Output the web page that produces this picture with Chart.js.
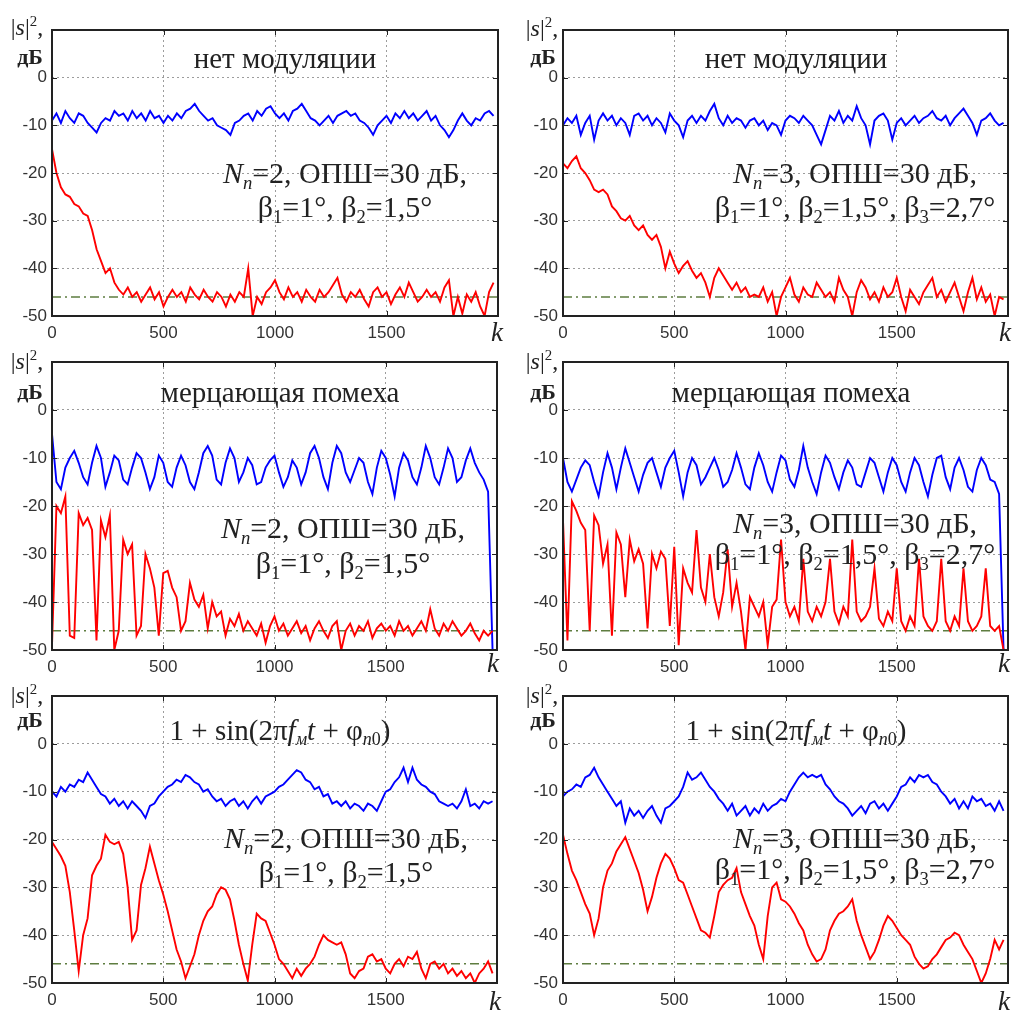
<!DOCTYPE html>
<html>
<head>
<meta charset="utf-8">
<script src="https://cdn.jsdelivr.net/npm/chart.js@4/dist/chart.umd.min.js"></script>
<style>
  body { margin: 0; background: #fff; }
  #page { position: relative; width: 1016px; height: 1012px; overflow: hidden; background: #fff; }
  #page canvas { position: absolute; }
  .txt { position: absolute; transform: translate(-50%, -50%); font-family: "Liberation Serif", "Times New Roman", serif; color: #222; white-space: nowrap; line-height: 1; }
  .title { font-size: 29px; }
  .note { font-size: 30px; }
  .ylab { font-size: 24px; }
  .unit { font-size: 22px; font-weight: bold; }
  .kl { font-size: 27px; font-style: italic; }
  sub { font-size: 0.62em; vertical-align: -0.3em; line-height: 0; }
  sup { font-size: 0.62em; vertical-align: 0.6em; line-height: 0; }
</style>
</head>
<body>
<div id="page"></div>
<script>
// sample positions (k), shared by every series
const kAxis = [0,20,40,60,80,100,120,140,160,180,
  200,220,240,260,280,300,320,340,360,380,
  400,420,440,460,480,500,520,540,560,580,
  600,620,640,660,680,700,720,740,760,780,
  800,820,840,860,880,900,920,940,960,980,
  1000,1020,1040,1060,1080,1100,1120,1140,1160,1180,
  1200,1220,1240,1260,1280,1300,1320,1340,1360,1380,
  1400,1420,1440,1460,1480,1500,1520,1540,1560,1580,
  1600,1620,1640,1660,1680,1700,1720,1740,1760,1780,
  1800,1820,1840,1860,1880,1900,1920,1940,1960,1980];

// нет модуляции
const noModBlueN2 = [-9,-7.5,-9.5,-7,-8.5,-9.5,-7.5,-8,-9.5,-10.5,
  -11.5,-9.5,-8.5,-9,-7,-8,-7.5,-9,-7,-8.5,
  -7.5,-9,-7,-8.5,-8,-9.5,-8,-9,-7.5,-8.5,
  -7,-6.5,-5.5,-7,-8,-9,-8.5,-10,-10.5,-11,
  -12,-9.5,-9,-8,-7.5,-9,-7,-8,-6.5,-6,
  -7.5,-8.5,-7.5,-9,-7,-6.5,-5.5,-7,-8.5,-9,
  -10,-9,-8,-9.5,-8,-7.5,-7,-8,-7.5,-9,
  -9.5,-10.5,-12,-10,-9,-8,-9.5,-7.5,-8.5,-7,
  -8.5,-7.5,-9,-8,-7,-9,-8,-10,-11,-12.5,
  -11,-9,-7.5,-9,-10,-8.5,-9,-7.5,-7,-8];
const noModRedN2 = [-15,-20,-23,-24.5,-25,-26.5,-27,-28.5,-29,-32,
  -36,-38.5,-41,-40,-43,-44.5,-45.5,-44,-46,-45,
  -47,-45.5,-44,-46.5,-45,-48,-46,-44.5,-46,-45,
  -47,-44,-45.5,-46.5,-44.5,-46,-47,-45,-46,-48,
  -45.5,-47,-45,-46,-40,-50,-46,-47.5,-45,-44,
  -42.5,-45,-46.5,-44,-46,-45,-47,-44.5,-46,-47,
  -44.5,-46,-45,-43.5,-42,-45.5,-47,-45,-46,-44.5,
  -46.5,-48,-45,-44,-46,-45,-47.5,-45.5,-44,-46,
  -43,-45,-47,-46,-44.5,-46,-45,-47,-44,-42.5,
  -50,-46,-49.5,-45.5,-47,-45,-48,-50,-45,-43];
const noModBlueN3 = [-10,-8.5,-9.5,-8,-12,-9.5,-8,-13,-9,-7.5,
  -9,-8,-10,-8.5,-9.5,-12,-8,-7.5,-9,-8,
  -10,-8.5,-9.5,-11.5,-7.5,-9,-10,-12.5,-9,-8,
  -9.5,-8,-9,-7,-5.5,-8.5,-10,-8,-9.5,-8.5,
  -9,-10.5,-9,-8.5,-10,-9,-11,-9.5,-10,-12,
  -9,-8,-8.5,-9.5,-8,-9,-10,-12,-14,-11,
  -8,-9,-7,-9.5,-8,-9,-6,-8.5,-10,-14,
  -9,-8,-7.5,-9,-13,-9.5,-8.5,-10,-9,-8,
  -9.5,-8.5,-8,-7,-8.5,-9,-8,-10,-8.5,-7.5,
  -6.5,-8,-9.5,-12,-9,-8.5,-7.5,-9,-10,-9.5];
const noModRedN3 = [-18,-19,-17.5,-16.5,-19,-20,-21.5,-23.5,-24,-23.5,
  -24.5,-27,-28,-29.5,-30,-29,-31,-32,-31,-33,
  -34,-33,-35.5,-40,-36.5,-39,-41,-39.5,-38.5,-40.5,
  -42,-41,-43,-46,-42,-40,-41.5,-43,-44.5,-43,
  -45,-44,-46,-45.5,-46,-44,-47,-45,-50,-46,
  -44,-42,-45.5,-47,-44,-45.5,-46,-43,-44.5,-46,
  -45,-47,-42,-44.5,-46,-50,-45,-42.5,-44,-46.5,
  -45,-47,-44,-46,-45,-42,-46,-49,-44.5,-46,
  -47.5,-45,-43.5,-42,-46,-44.5,-47,-45,-43,-46,
  -49,-45,-42,-46.5,-44,-47,-45.5,-50,-46,-46.5];

// мерцающая помеха
const flickerBlueN2 = [-5,-15,-16.5,-12,-10,-8.5,-11,-14,-15.5,-11,
  -7.5,-10,-16,-13,-9.5,-10.5,-14.5,-15.5,-12,-9,
  -10,-13,-16.5,-14,-9.5,-11,-15,-16,-12,-9.5,
  -11.5,-15,-16.5,-13,-9,-7.5,-9.5,-14.5,-15.5,-11,
  -8,-10,-15,-13,-10,-11.5,-15.5,-15,-12,-10.5,
  -9.5,-13,-16,-14,-10.5,-12,-15.5,-13,-9,-7.5,
  -10,-14,-16.5,-11,-7.5,-9,-13,-15,-12.5,-10,
  -11,-15,-17.5,-12,-8.5,-10,-13.5,-18,-12,-9,
  -10.5,-14,-15.5,-12,-7.5,-10,-14,-15.5,-12,-8,
  -10,-15,-14,-10.5,-8,-11,-13,-14.5,-17,-50];
const flickerRedN2 = [-49,-20,-21.5,-18,-47,-47.5,-21.5,-24,-22.5,-25,
  -48,-23,-26.5,-22,-50,-46,-27,-30,-28,-47,
  -45,-30,-33,-37,-47,-34,-33.5,-37,-39,-46,
  -44,-36,-39.5,-41,-38.5,-45.5,-40,-43,-42,-47,
  -43.5,-45,-42.5,-46,-44,-45.5,-47,-44.5,-48.5,-45,
  -43,-46,-44.5,-47,-45.5,-44,-46.5,-45,-48,-45.5,
  -44,-46,-47.5,-45,-44,-50,-46,-44.5,-47,-45,
  -46,-44,-47.5,-45.5,-44.5,-46,-45,-47,-44,-46,
  -45,-47,-45.5,-44,-46,-41.5,-45.5,-47,-44.5,-46,
  -44,-45.5,-47,-46,-44.5,-46.5,-48,-46,-47,-46];
const flickerBlueN3 = [-10,-15,-17,-14.5,-12,-10.5,-11.5,-15,-18,-13,
  -9,-12,-16.5,-12,-8,-11,-14,-17,-13.5,-11,
  -10,-13,-16,-12,-10,-8.5,-13,-18,-13,-10,
  -11.5,-15.5,-14,-12,-10,-12.5,-16,-15,-12.5,-9,
  -12,-15.5,-16.5,-12,-9,-11.5,-15,-17,-13,-9.5,
  -10.5,-14.5,-16,-12.5,-7.5,-12,-15,-17.5,-13,-9.5,
  -11,-14,-16.5,-13,-10.5,-12,-15.5,-16,-13,-10,
  -11,-14,-17,-13,-10,-11.5,-15,-17,-13,-10,
  -11.5,-15,-18,-13.5,-10,-9.5,-14,-16.5,-12,-10,
  -12.5,-16,-17,-12.5,-10,-11.5,-14.5,-15,-17.5,-50];
const flickerRedN3 = [-23,-48,-19,-21,-23.5,-25,-46,-22,-24,-32,
  -28,-47,-25.5,-28,-39,-27,-31.5,-29,-32,-45.5,
  -30,-33,-29.5,-31,-45,-28.5,-49,-33,-36,-38,
  -25,-37,-40,-30,-39,-43,-38,-29,-41,-36,
  -42,-50,-39,-41,-43,-40,-49,-41,-39.5,-27,
  -40,-43,-41,-44,-31,-42,-44,-41,-43,-40,
  -31,-42,-44.5,-41,-43,-27,-42,-44,-43,-41,
  -33,-43.5,-45,-42,-44,-33,-44,-46,-43,-45,
  -31,-43,-45,-46,-44,-31,-44,-46,-43,-45,
  -33,-44,-46,-45,-43,-33,-45,-46,-45,-50];

// 1 + sin(...)
const sineBlueN2 = [-10,-11,-9,-10,-8.5,-9,-7.5,-8,-6,-7.5,
  -9,-10.5,-11,-12.5,-11.5,-13,-12,-13.5,-12,-13,
  -14,-15.5,-13,-12.5,-11,-10,-9,-8.5,-7.5,-8,
  -6.5,-7,-8,-8.5,-10,-9.5,-11,-12,-11.5,-13,
  -12,-11.5,-13,-12,-13.5,-12,-11,-12.5,-11,-10.5,
  -10,-9,-8.5,-7.5,-6.5,-5.5,-6,-7.5,-8,-9.5,
  -9,-11,-10.5,-12.5,-12,-13,-12,-13.5,-12.5,-13,
  -14,-12.5,-13,-14,-12,-10,-9.5,-8,-7,-5,
  -8,-5,-7.5,-8.5,-9,-10,-10.5,-12,-12.5,-13,
  -12.5,-13.5,-12,-9.5,-13,-12.5,-13.5,-12,-12.5,-12];
const sineRedN2 = [-20.5,-22,-23.5,-25.5,-31,-39,-47.5,-40,-36.5,-27.5,
  -25.5,-24,-19,-20.5,-21,-20.5,-23,-30,-41,-39,
  -29.5,-26,-21.5,-25,-28.5,-31.5,-35,-39,-43,-45.5,
  -49,-46.5,-44,-40,-37,-35,-34,-31.5,-30,-30.5,
  -32.5,-37,-42,-46,-49.5,-42,-35.5,-36.5,-37,-39.5,
  -42,-45,-46,-47.5,-49,-47,-48.5,-47,-46,-44.5,
  -42,-40,-41,-41.5,-42,-41.5,-44,-48,-49,-47.5,
  -47,-44.5,-44,-45.5,-45,-47,-48,-46,-45,-46.5,
  -44.5,-45,-43.5,-47,-49,-46,-45.5,-47,-46,-48,
  -47,-48.5,-47.5,-49,-48,-50,-48,-47,-45.5,-48];
const sineBlueN3 = [-11,-10,-9.5,-8.5,-9,-7,-6.5,-5,-7,-8.5,
  -10,-11.5,-13,-12,-16.5,-13.5,-15,-14,-15.5,-14,
  -13,-15,-16.5,-13.5,-13,-12,-11,-9,-6,-7.5,
  -7,-6,-7.5,-9,-10,-11.5,-12.5,-14,-12.5,-15,
  -14,-13,-15,-13.5,-14.5,-12.5,-14,-13,-12.5,-11.5,
  -12,-10,-8.5,-7,-6,-7,-6.5,-7,-6.5,-8.5,
  -9.5,-11,-12,-12.5,-13.5,-15,-14,-13,-14.5,-12.5,
  -12,-13.5,-12.5,-14,-12.5,-11,-9,-8.5,-7,-8,
  -6.5,-7,-6.5,-8,-8.5,-10,-11,-12.5,-11.5,-13.5,
  -12,-13.5,-11,-12,-11.5,-13,-12.5,-14,-12,-14];
const sineRedN3 = [-19,-23,-26.5,-28.5,-31,-33.5,-35.5,-40,-36.5,-30,
  -26.5,-25,-22.5,-21,-19.5,-22,-24.5,-27,-30.5,-35,
  -32,-28,-25,-23,-24,-26,-28.5,-29,-31.5,-34,
  -36.5,-39,-39.5,-40.5,-36,-31,-29.5,-28.5,-28,-26,
  -31,-33.5,-36,-38,-42,-45,-36,-30,-29,-32.5,
  -33,-34,-35.5,-37.5,-39,-42,-44,-45.5,-45,-43,
  -39,-37,-35.5,-35,-34,-32.5,-37,-40,-42.5,-45,
  -43.5,-41,-38,-36,-37,-38.5,-40,-41,-42,-44.5,
  -46,-47,-46.5,-45,-44,-42.5,-41,-40.5,-39.5,-40,
  -42,-43.5,-45,-47.5,-50,-48,-45,-41,-43,-41];

const floorLevel = -46;
const kRange = [0, 2000];
const yRange = [-50, 10];
const xTickLabels = [0, 500, 1000, 1500];
const yTickLabels = [0, -10, -20, -30, -40, -50];

const panelTitles = [
  'нет модуляции',
  'мерцающая помеха',
  '1 + sin(2π<i>f</i><sub><i>м</i></sub><i>t</i> + φ<sub><i>п</i>0</sub>)'
];
const noteLines = {
  2: ['<i>N</i><sub><i>п</i></sub>=2, ОПШ=30 дБ,', 'β<sub>1</sub>=1°, β<sub>2</sub>=1,5°'],
  3: ['<i>N</i><sub><i>п</i></sub>=3, ОПШ=30 дБ,', 'β<sub>1</sub>=1°, β<sub>2</sub>=1,5°, β<sub>3</sub>=2,7°']
};

// layout of the six panels: canvas box, plot area [left, right, top, bottom], text spots
const panels = [
  { box: [0, 0, 508, 340], area: [52, 498, 30, 316], blue: noModBlueN2, red: noModRedN2, title: 0, n: 2,
    titleAt: [285, 58], noteAt: [345, 173, 207], kAt: [497, 332], ylabAt: [27, 27, 30, 57] },
  { box: [508, 0, 508, 340], area: [563, 1008, 30, 316], blue: noModBlueN3, red: noModRedN3, title: 0, n: 3,
    titleAt: [796, 58], noteAt: [855, 173, 207], kAt: [1005, 332], ylabAt: [542, 28, 543, 57] },
  { box: [0, 340, 508, 335], area: [52, 497, 362, 650], blue: flickerBlueN2, red: flickerRedN2, title: 1, n: 2,
    titleAt: [280, 392], noteAt: [343, 528, 563], kAt: [493, 663], ylabAt: [27, 361, 30, 392] },
  { box: [508, 340, 508, 335], area: [563, 1008, 362, 650], blue: flickerBlueN3, red: flickerRedN3, title: 1, n: 3,
    titleAt: [791, 392], noteAt: [855, 523, 554], kAt: [1004, 663], ylabAt: [542, 361, 543, 392] },
  { box: [0, 675, 508, 337], area: [52, 497, 696, 983], blue: sineBlueN2, red: sineRedN2, title: 2, n: 2,
    titleAt: [280, 730], noteAt: [346, 838, 872], kAt: [495, 1001], ylabAt: [27, 695, 30, 720] },
  { box: [508, 675, 508, 337], area: [563, 1008, 696, 983], blue: sineBlueN3, red: sineRedN3, title: 2, n: 3,
    titleAt: [796, 730], noteAt: [855, 838, 869], kAt: [1004, 1001], ylabAt: [542, 695, 543, 720] }
];

const page = document.getElementById('page');

function toPoints(values) {
  return kAxis.map((k, i) => ({ x: k, y: values[i] }));
}

function addText(cls, html, x, y) {
  const el = document.createElement('div');
  el.className = 'txt ' + cls;
  el.innerHTML = html;
  el.style.left = x + 'px';
  el.style.top = y + 'px';
  page.appendChild(el);
}

// black frame with small inward ticks, like the original plots
const framePlugin = {
  id: 'frame',
  afterDatasetsDraw(chart) {
    const { ctx, chartArea: a, scales } = chart;
    ctx.save();
    ctx.strokeStyle = '#222';
    ctx.lineWidth = 1;
    yTickLabels.forEach(v => {
      const y = Math.round(scales.y.getPixelForValue(v)) + 0.5;
      ctx.beginPath();
      ctx.moveTo(a.left, y); ctx.lineTo(a.left + 5, y);
      ctx.moveTo(a.right, y); ctx.lineTo(a.right - 5, y);
      ctx.stroke();
    });
    xTickLabels.forEach(v => {
      const x = Math.round(scales.x.getPixelForValue(v)) + 0.5;
      ctx.beginPath();
      ctx.moveTo(x, a.bottom); ctx.lineTo(x, a.bottom - 5);
      ctx.moveTo(x, a.top); ctx.lineTo(x, a.top + 5);
      ctx.stroke();
    });
    ctx.lineWidth = 2;
    ctx.strokeRect(a.left, a.top, a.right - a.left, a.bottom - a.top);
    ctx.restore();
  }
};

const tickFont = { family: '"Liberation Sans", Arial, sans-serif', size: 17 };
const gridGray = '#9c9c9c';

panels.forEach(p => {
  const [bx, by, bw, bh] = p.box;
  const [aL, aR, aT, aB] = p.area;
  const canvas = document.createElement('canvas');
  canvas.width = bw;
  canvas.height = bh;
  canvas.style.left = bx + 'px';
  canvas.style.top = by + 'px';
  page.appendChild(canvas);

  new Chart(canvas, {
    type: 'line',
    data: {
      datasets: [
        { data: toPoints(p.red), borderColor: '#ff0000', borderWidth: 1.9, order: 1 },
        { data: toPoints(p.blue), borderColor: '#0000ff', borderWidth: 1.9, order: 2 },
        { data: [{ x: kRange[0], y: floorLevel }, { x: kRange[1], y: floorLevel }],
          borderColor: '#5e7d40', borderWidth: 1.5, borderDash: [9, 4, 2, 4], order: 3 }
      ]
    },
    options: {
      responsive: false,
      animation: false,
      devicePixelRatio: 1,
      layout: { padding: { left: 0, right: bx + bw - aR, top: aT - by, bottom: 0 } },
      elements: { point: { radius: 0 }, line: { tension: 0, fill: false } },
      plugins: { legend: { display: false }, tooltip: { enabled: false } },
      scales: {
        x: {
          type: 'linear', min: kRange[0], max: kRange[1],
          afterFit: s => { s.height = bh - (aB - by); },
          ticks: {
            stepSize: 500, autoSkip: false, maxRotation: 0, padding: 7,
            color: '#333', font: tickFont,
            callback: v => xTickLabels.includes(v) ? String(v) : ''
          },
          grid: {
            drawTicks: false, lineWidth: 1,
            color: c => (c.tick && (c.tick.value === kRange[0] || c.tick.value === kRange[1])) ? 'rgba(0,0,0,0)' : gridGray
          },
          border: { display: false, dash: [2, 3] }
        },
        y: {
          type: 'linear', min: yRange[0], max: yRange[1],
          afterFit: s => { s.width = aL - bx; },
          ticks: {
            stepSize: 10, padding: 5, color: '#333', font: tickFont,
            callback: v => yTickLabels.includes(v) ? String(v) : ''
          },
          grid: {
            drawTicks: false, lineWidth: 1,
            color: c => (c.tick && (c.tick.value === yRange[0] || c.tick.value === yRange[1])) ? 'rgba(0,0,0,0)' : gridGray
          },
          border: { display: false, dash: [2, 3] }
        }
      }
    },
    plugins: [framePlugin]
  });

  addText('title', panelTitles[p.title], p.titleAt[0], p.titleAt[1]);
  addText('note', noteLines[p.n][0], p.noteAt[0], p.noteAt[1]);
  addText('note', noteLines[p.n][1], p.noteAt[0], p.noteAt[2]);
  addText('kl', 'k', p.kAt[0], p.kAt[1]);
  addText('ylab', '|<i>s</i>|<sup>2</sup>,', p.ylabAt[0], p.ylabAt[1]);
  addText('unit', 'дБ', p.ylabAt[2], p.ylabAt[3]);
});
</script>
</body>
</html>
